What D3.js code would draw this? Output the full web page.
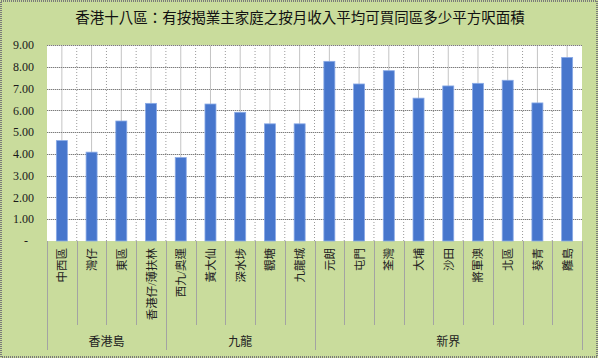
<!DOCTYPE html>
<html><head><meta charset="utf-8">
<script src="https://cdn.jsdelivr.net/npm/d3@7"></script>
<style>html,body{margin:0;padding:0;background:#fff;}svg{display:block;}</style>
</head><body>
<svg id="chart" width="598" height="358"></svg>
<script>
const title = "香港十八區：有按揭業主家庭之按月收入平均可買同區多少平方呎面積";
const categories = ["中西區","灣仔","東區","香港仔/薄扶林","西九/奧運","黃大仙","深水埗","觀塘","九龍城","元朗","屯門","荃灣","大埔","沙田","將軍澳","北區","葵青","離島"];
const values = [4.61,4.08,5.51,6.32,3.83,6.29,5.91,5.38,5.38,8.25,7.21,7.82,6.56,7.12,7.24,7.38,6.34,8.43];
const groups = ["香港島","九龍","新界"];
const groupSizes = [4,5,9];
const yTicks = [0,1,2,3,4,5,6,7,8,9];

const svg = d3.select("#chart");
const W = 598, H = 358;
const m = {left:47, right:16, top:45, bottom:117};
const x0 = m.left, x1 = W - m.right, y0 = m.top, y1 = H - m.bottom;
const font = "'Liberation Serif','Noto Sans CJK TC',serif";

// background
svg.append("rect").attr("x",0).attr("y",0).attr("width",W).attr("height",H).attr("fill","#c9dc9c");
svg.append("rect").attr("x",1).attr("y",1).attr("width",W-2).attr("height",H-2)
  .attr("fill","none").attr("stroke","#7a7a7a").attr("stroke-width",2).attr("stroke-dasharray","1,1");

const x = d3.scaleBand().domain(categories).range([x0,x1]).paddingInner(0.63).paddingOuter(0.315);
const step = x.step();
const y = d3.scaleLinear().domain([0,9]).range([y1,y0]);

// plot area
svg.append("rect").attr("x",x0).attr("y",y0).attr("width",x1-x0).attr("height",y1-y0).attr("fill","#ffffff");

// vertical gridlines: centers solid light, boundaries dotted
const g = svg.append("g");
categories.forEach((c,i)=>{
  const cx = x0 + step*(i+0.5);
  g.append("line").attr("x1",cx).attr("x2",cx).attr("y1",y0).attr("y2",y1)
    .attr("stroke","#c4c4c4").attr("stroke-width",1);
  if(i>0){
    const bx = x0 + step*i;
    g.append("line").attr("x1",bx).attr("x2",bx).attr("y1",y0).attr("y2",y1)
      .attr("stroke","#9a9a9a").attr("stroke-width",1).attr("stroke-dasharray","1,2");
  }
});
// horizontal gridlines
yTicks.forEach(t=>{
  if(t===0) return;
  const yy = Math.round(y(t))+0.5;
  g.append("line").attr("x1",x0).attr("x2",x1).attr("y1",yy).attr("y2",yy)
    .attr("stroke","#d0d0d0").attr("stroke-width",1);
  g.append("line").attr("x1",x0).attr("x2",x1).attr("y1",yy).attr("y2",yy)
    .attr("stroke","#7c7c7c").attr("stroke-width",1).attr("stroke-dasharray","1,1");
});

// bars
svg.append("g").selectAll("rect").data(categories).join("rect")
  .attr("x",d=>x(d)).attr("width",x.bandwidth())
  .attr("y",(d,i)=>y(values[i])).attr("height",(d,i)=>y(0)-y(values[i]))
  .attr("fill","#4776cc").attr("stroke","#8aaae6").attr("stroke-width",0.8);

// y axis labels
const fmt = d3.format(".2f");
svg.append("g").selectAll("text").data(yTicks).join("text")
  .attr("x",d=>d===0?28:34).attr("y",d=>y(d)).attr("dy","0.35em")
  .attr("text-anchor","end").attr("font-family",font).attr("font-size",12).attr("fill","#1a1a1a")
  .text(d=>d===0?"-":fmt(d));

// category separators below axis
const sep = svg.append("g").attr("stroke","#a3a3a3").attr("stroke-width",1);
let boundaries = [0]; groupSizes.reduce((a,s)=>{boundaries.push(a+s);return a+s;},0);
for(let i=0;i<=categories.length;i++){
  const bx = Math.round(x0 + step*i)+0.5;
  const isGroup = boundaries.includes(i);
  sep.append("line").attr("x1",bx).attr("x2",bx).attr("y1",y1).attr("y2",isGroup?350:325);
}

// category labels rotated
svg.append("g").selectAll("text").data(categories).join("text")
  .attr("transform",(d,i)=>`translate(${x0+step*(i+0.5)+4.5},${y1+7}) rotate(-90)`)
  .attr("text-anchor","end").attr("font-family",font).attr("font-size",11.5).attr("fill","#222")
  .text(d=>d);

// group labels
let start = 0;
groups.forEach((gname,k)=>{
  const cx = x0 + step*(start + groupSizes[k]/2);
  svg.append("text").attr("x",cx).attr("y",342).attr("dy","0.35em").attr("text-anchor","middle")
    .attr("font-family",font).attr("font-size",12).attr("fill","#222").text(gname);
  start += groupSizes[k];
});

// title
svg.append("text").attr("x",300).attr("y",18).attr("dy","0.35em").attr("text-anchor","middle")
  .attr("font-family",font).attr("font-size",14.5).attr("font-weight","normal").attr("fill","#111")
  .text(title);
</script>
</body></html>
